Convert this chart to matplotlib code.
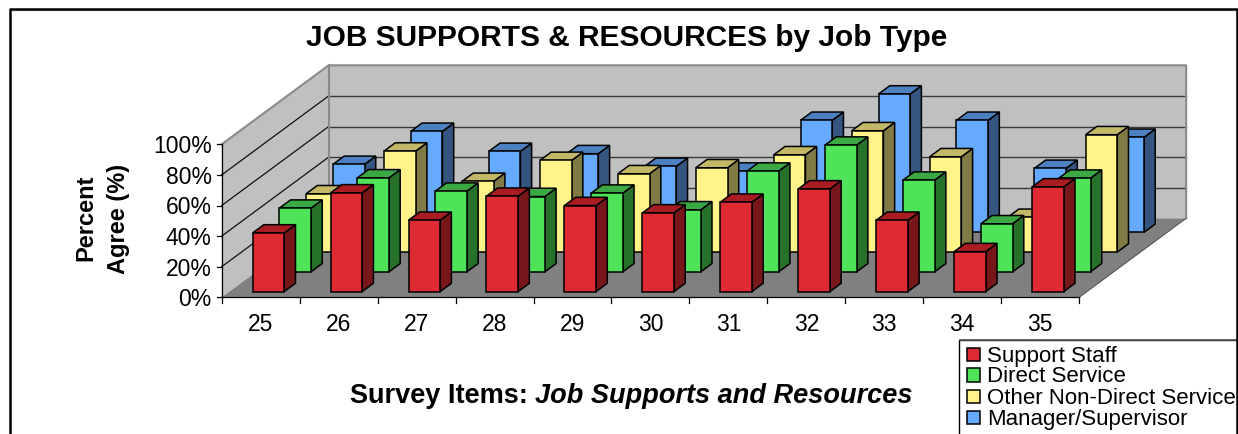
import matplotlib
matplotlib.use("Agg")
import matplotlib.pyplot as plt
from matplotlib.patches import Polygon, Rectangle

plt.rcParams["font.family"] = ["Liberation Sans", "DejaVu Sans"]

items = ["25", "26", "27", "28", "29", "30", "31", "32", "33", "34", "35"]
series_names = ["Support Staff", "Direct Service", "Other Non-Direct Service", "Manager/Supervisor"]
support_staff = [38.3, 64.5, 46.6, 62.3, 56.2, 51.4, 58.4, 67.1, 46.6, 26.1, 68.4]
direct_service = [41.6, 61.4, 52.7, 49.2, 51.4, 40.5, 65.8, 82.8, 59.9, 31.4, 61.2]
other_non_direct = [38.1, 66.0, 46.2, 59.9, 51.2, 55.1, 63.6, 79.3, 62.3, 22.7, 76.7]
manager = [44.4, 66.0, 52.9, 51.4, 43.1, 40.0, 73.2, 90.4, 73.2, 41.8, 62.1]
y_ticks = [0, 20, 40, 60, 80, 100]

# front, side, top
colors = [
    ("#DE2A32", "#771719", "#A81C22"),
    ("#4FE35A", "#27722B", "#3CA843"),
    ("#FFF38A", "#807A45", "#C2B868"),
    ("#66AAFF", "#335580", "#4D80C0"),
]

# oblique projection, in image pixels
X0, Y0 = 221.7, 298.3
STEP = 77.95
PX_PER_PCT = 1.53
DEPTH_X, DEPTH_Y = 107.0, -79.0
BAR_W = 0.406
BAR_D = 0.42


def proj(x, z, v):
    # x in categories, z in rows (0-4), v in percent
    return (X0 + x * STEP + z / 4 * DEPTH_X, Y0 + z / 4 * DEPTH_Y - v * PX_PER_PCT)


fig = plt.figure(figsize=(12.38, 4.35), dpi=100)
ax = fig.add_axes([0, 0, 1, 1])
ax.set_xlim(0, 1238)
ax.set_ylim(435, 0)
ax.axis("off")

n = len(items)
WALL = "#C0C0C0"
EDGE = "#8A8A8A"

# chart frame
ax.plot([10, 10, 1236.7, 1236.7], [440, 9.5, 9.5, 440], color="black", lw=1.8, zorder=20)
ax.plot([11, 1236], [11.3, 11.3], color="#BDBDBD", lw=1.0, zorder=19)

# walls and floor
ax.add_patch(Polygon([proj(0, 0, 0), proj(0, 0, 100), proj(0, 4, 100), proj(0, 4, 0)],
                     fc=WALL, ec="none", zorder=1))
ax.add_patch(Polygon([proj(0, 4, 0), proj(0, 4, 100), proj(n, 4, 100), proj(n, 4, 0)],
                     fc=WALL, ec="none", zorder=1))
ax.add_patch(Polygon([proj(0, 0, 0), proj(n, 0, 0), proj(n, 4, 0), proj(0, 4, 0)],
                     fc="#808080", ec="none", zorder=2))

# gridlines
for v in y_ticks[1:-1]:
    pts = [proj(0, 0, v), proj(0, 4, v), proj(n, 4, v)]
    ax.plot([p[0] for p in pts[:2]], [p[1] for p in pts[:2]], color="#111111", lw=0.9, zorder=3)
    ax.plot([p[0] for p in pts[1:]], [p[1] for p in pts[1:]], color="#3A3A3A", lw=1.0, zorder=3)

# wall outlines
pts = [proj(0, 0, 100), proj(0, 4, 100), proj(n, 4, 100), proj(n, 4, 0)]
ax.plot([p[0] for p in pts], [p[1] for p in pts], color=EDGE, lw=1.5, zorder=3)
pts = [proj(0, 4, 100), proj(0, 4, 0)]
ax.plot([p[0] for p in pts], [p[1] for p in pts], color=EDGE, lw=1.5, zorder=3)
pts = [proj(n, 0, 0), proj(n, 4, 0)]
ax.plot([p[0] for p in pts], [p[1] for p in pts], color="#555555", lw=0.8, zorder=3)

# bars, back row first
all_series = [support_staff, direct_service, other_non_direct, manager]
zo = 5
for row in range(3, -1, -1):
    for i, v in enumerate(all_series[row]):
        x1 = i + 0.5 - BAR_W / 2
        x2 = i + 0.5 + BAR_W / 2
        z1 = row + 0.5 - BAR_D / 2
        z2 = row + 0.5 + BAR_D / 2
        c_front, c_side, c_top = colors[row]
        faces = [
            ([proj(x2, z1, 0), proj(x2, z2, 0), proj(x2, z2, v), proj(x2, z1, v)], c_side),
            ([proj(x1, z1, v), proj(x2, z1, v), proj(x2, z2, v), proj(x1, z2, v)], c_top),
            ([proj(x1, z1, 0), proj(x2, z1, 0), proj(x2, z1, v), proj(x1, z1, v)], c_front),
        ]
        for verts, c in faces:
            ax.add_patch(Polygon(verts, fc=c, ec="black", lw=1.1, joinstyle="miter", zorder=zo))
    zo += 1

# axes and ticks
ax.plot([X0, X0], [proj(0, 0, 100)[1], Y0], color="black", lw=0.9, zorder=10)
ax.plot([X0, proj(n, 0, 0)[0]], [Y0, Y0], color="black", lw=0.9, zorder=10)
for v in y_ticks:
    y = proj(0, 0, v)[1]
    ax.plot([X0 - 5, X0], [y, y], color="black", lw=0.9, zorder=10)
    ax.text(X0 - 10, y + 1.5, f"{v}%", ha="right", va="center", fontsize=16.5)
for i in range(n + 1):
    x = proj(i, 0, 0)[0]
    ax.plot([x, x], [Y0, Y0 + 5.5], color="black", lw=0.9, zorder=10)
for i, lab in enumerate(items):
    ax.text(proj(i + 0.5, 0, 0)[0], 325, lab, ha="center", va="center", fontsize=16.5)

# titles
ax.text(626.5, 37.5, "JOB SUPPORTS & RESOURCES by Job Type", ha="center", va="center",
        fontsize=21.5, fontweight="bold")
ax.text(85.5, 218, "Percent", rotation=90, ha="center", va="center", fontsize=17, fontweight="bold")
ax.text(118.5, 218.5, "Agree (%)", rotation=90, ha="center", va="center", fontsize=17, fontweight="bold")
ax.text(528, 396, "Survey Items:", ha="right", va="center", fontsize=19.5, fontweight="bold")
ax.text(535, 396, "Job Supports and Resources", ha="left", va="center", fontsize=19.5,
        fontweight="bold", fontstyle="italic")

# legend box runs off the bottom of the picture
ax.add_patch(Rectangle((959.3, 341), 280, 100, fc="white", ec="black", lw=1.0, zorder=15))
ax.plot([960, 1236], [341, 341], color="#555555", lw=1.2, zorder=16)
legend_y = [355, 375.5, 397, 418]
for name, c, y in zip(series_names, colors, legend_y):
    ax.add_patch(Rectangle((966.5, y - 6.5), 13.5, 13.5, fc=c[0], ec="black", lw=1.1, zorder=16))
    ax.text(987, y + 1.5, name, ha="left", va="center", fontsize=16, zorder=17)

fig.savefig("out.png", dpi=100)
